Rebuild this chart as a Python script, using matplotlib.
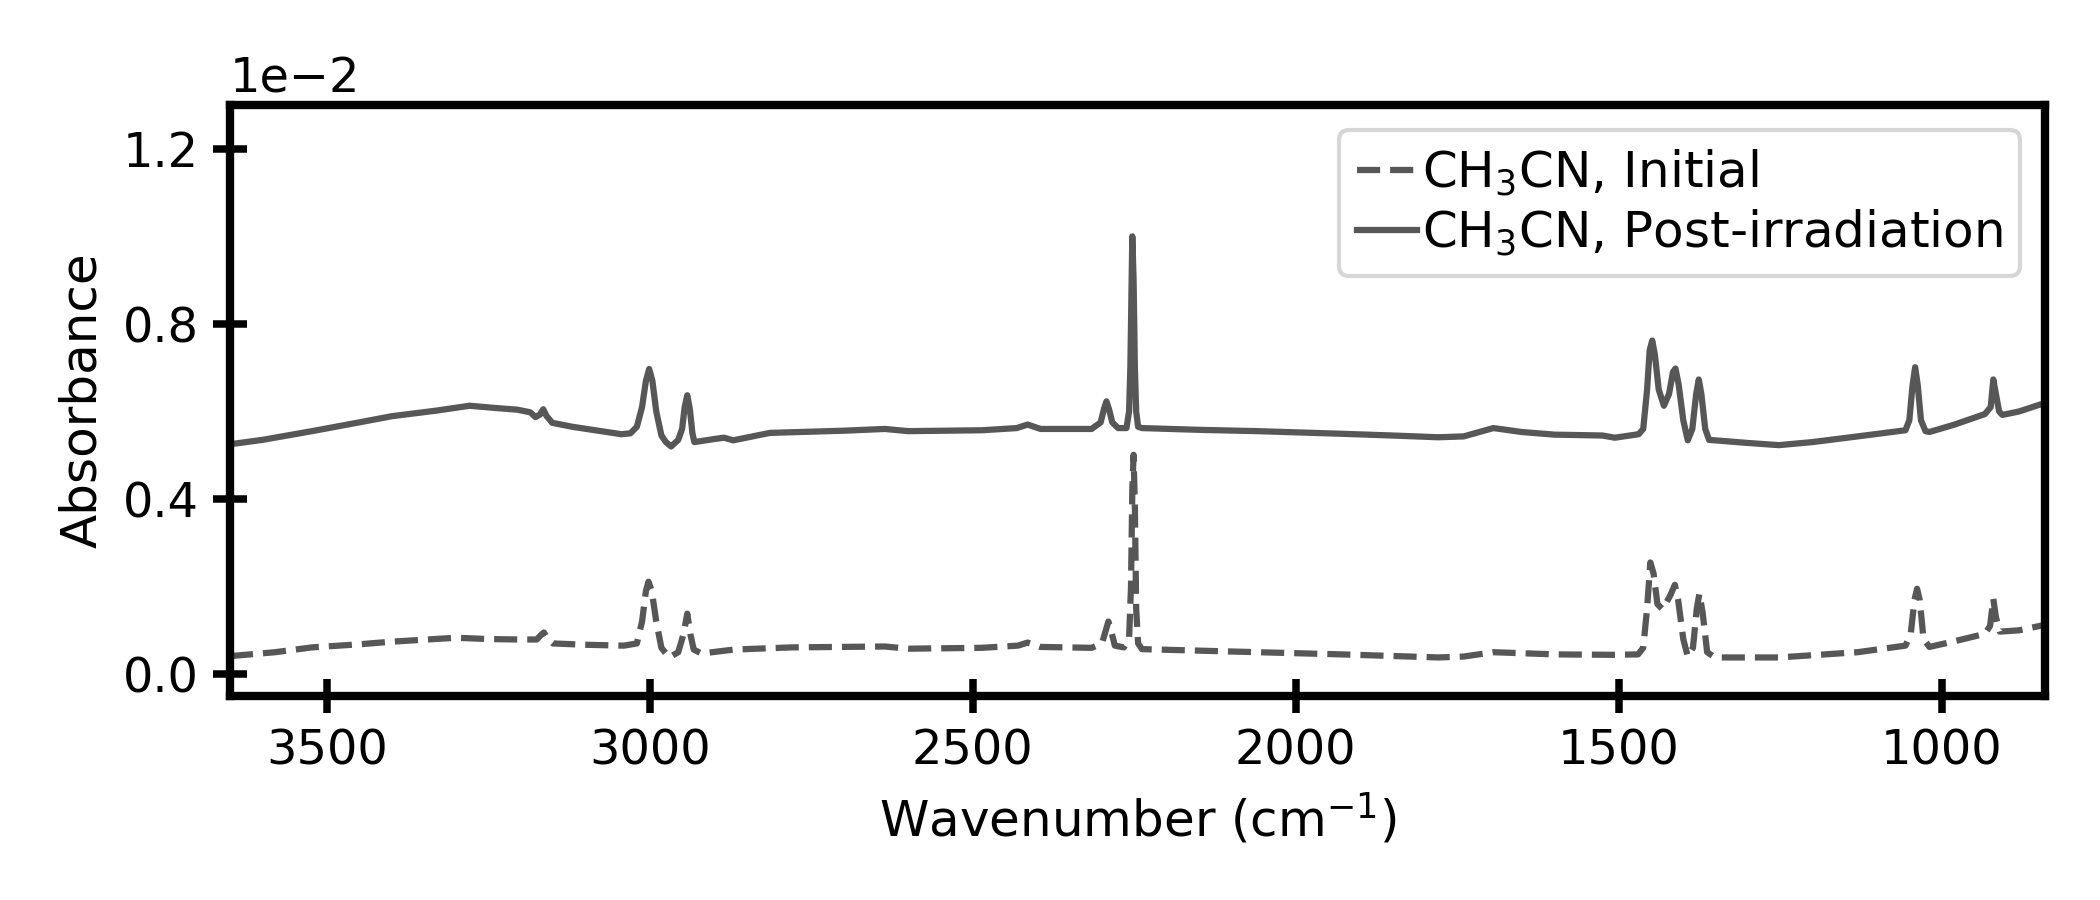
import numpy as np
import matplotlib
matplotlib.use('Agg')
import matplotlib.pyplot as plt

plt.rcParams['font.family'] = ['DejaVu Sans']
plt.rcParams['font.size'] = 11.5

# CH3CN, Initial (absorbance in units of 1e-2)
wn_init = [3650, 3580, 3523, 3450, 3400, 3300, 3250, 3200, 3175, 3168, 3164, 3158, 3150,
           3100, 3040, 3020, 3012, 3006, 3002, 2997, 2990, 2982, 2970, 2956, 2948, 2942,
           2937, 2932, 2920, 2870, 2780, 2636, 2600, 2486, 2430, 2415, 2395, 2316, 2300,
           2293, 2290, 2286, 2280, 2266, 2258, 2255, 2253, 2251, 2249, 2247, 2244, 2238,
           2059, 1929, 1779, 1740, 1694, 1599, 1506, 1470, 1462, 1456, 1451, 1446, 1440,
           1432, 1420, 1413, 1408, 1400, 1393, 1385, 1379, 1375, 1370, 1363, 1351, 1252,
           1130, 1056, 1048, 1042, 1038, 1034, 1028, 1019, 980, 933, 925, 920, 916, 910,
           880, 845, 840]
abs_init = [0.041, 0.050, 0.061, 0.068, 0.074, 0.083, 0.080, 0.079, 0.079, 0.090, 0.095, 0.080, 0.070,
            0.067, 0.065, 0.070, 0.120, 0.190, 0.211, 0.190, 0.120, 0.060, 0.038, 0.050, 0.090, 0.138,
            0.090, 0.056, 0.047, 0.056, 0.061, 0.063, 0.058, 0.060, 0.065, 0.072, 0.062, 0.060, 0.070,
            0.105, 0.120, 0.100, 0.065, 0.061, 0.080, 0.200, 0.420, 0.501, 0.380, 0.150, 0.070, 0.057,
            0.050, 0.045, 0.038, 0.040, 0.050, 0.045, 0.044, 0.045, 0.060, 0.150, 0.255, 0.230, 0.160,
            0.148, 0.180, 0.204, 0.170, 0.080, 0.040, 0.060, 0.150, 0.184, 0.140, 0.050, 0.038, 0.038,
            0.050, 0.065, 0.090, 0.170, 0.195, 0.170, 0.080, 0.062, 0.075, 0.092, 0.110, 0.172, 0.130, 0.097,
            0.100, 0.111, 0.112]

# CH3CN, Post-irradiation (absorbance in units of 1e-2)
wn_post = [3650, 3600, 3523, 3450, 3400, 3330, 3279, 3240, 3205, 3185, 3177, 3170, 3165, 3160,
           3151, 3120, 3080, 3044, 3030, 3020, 3012, 3006, 3001, 2996, 2990, 2982, 2975, 2967,
           2956, 2950, 2946, 2942, 2938, 2934, 2931, 2900, 2885, 2871, 2814, 2700, 2636, 2600,
           2486, 2432, 2415, 2395, 2316, 2302, 2297, 2293, 2289, 2284, 2275, 2262, 2258, 2256,
           2254, 2253, 2251, 2249, 2247, 2244, 2238, 2150, 2059, 1929, 1850, 1779, 1740, 1694,
           1650, 1599, 1525, 1506, 1469, 1462, 1456, 1452, 1448, 1444, 1438, 1430, 1422, 1416,
           1412, 1407, 1400, 1393, 1386, 1380, 1376, 1372, 1366, 1360, 1351, 1300, 1252, 1200,
           1130, 1056, 1050, 1045, 1041, 1037, 1032, 1025, 1019, 980, 933, 924, 920, 916, 911,
           906, 880, 845, 840]
abs_post = [0.525, 0.535, 0.555, 0.575, 0.589, 0.602, 0.613, 0.608, 0.604, 0.598, 0.587, 0.593, 0.605, 0.590,
            0.574, 0.565, 0.556, 0.548, 0.550, 0.565, 0.610, 0.670, 0.697, 0.670, 0.600, 0.545, 0.530, 0.520,
            0.535, 0.560, 0.610, 0.637, 0.605, 0.550, 0.530, 0.537, 0.540, 0.534, 0.551, 0.556, 0.560, 0.555,
            0.557, 0.562, 0.570, 0.560, 0.560, 0.575, 0.605, 0.623, 0.605, 0.575, 0.562, 0.562, 0.600, 0.700,
            0.900, 1.000, 0.900, 0.700, 0.600, 0.565, 0.562, 0.558, 0.555, 0.549, 0.545, 0.541, 0.543, 0.562,
            0.553, 0.547, 0.545, 0.540, 0.548, 0.560, 0.650, 0.740, 0.762, 0.730, 0.650, 0.613, 0.640, 0.690,
            0.698, 0.660, 0.580, 0.534, 0.560, 0.640, 0.673, 0.640, 0.560, 0.535, 0.534, 0.528, 0.523, 0.530,
            0.543, 0.557, 0.580, 0.660, 0.701, 0.660, 0.580, 0.555, 0.553, 0.570, 0.594, 0.610, 0.673, 0.640, 0.600,
            0.592, 0.600, 0.617, 0.618]

color = '#575757'

fig = plt.figure(figsize=(7, 3), dpi=300)
ax = fig.add_axes([0.1095, 0.2267, 0.8643, 0.6566])

ax.plot(wn_init, np.array(abs_init) * 1e-2, '--', color=color, lw=1.5, label=r'CH$_3$CN, Initial')
ax.plot(wn_post, np.array(abs_post) * 1e-2, '-', color=color, lw=1.5, label=r'CH$_3$CN, Post-irradiation')

ax.set_xlim(3650, 840)
ax.set_ylim(-0.0005, 0.013)
ax.set_yticks([0, 0.004, 0.008, 0.012])
ax.ticklabel_format(axis='y', style='sci', scilimits=(0, 0))
ax.set_xticks([3500, 3000, 2500, 2000, 1500, 1000])

ax.set_xlabel(r'Wavenumber (cm$^{-1}$)', fontsize=12)
ax.set_ylabel('Absorbance', fontsize=12)

for s in ax.spines.values():
    s.set_linewidth(2.0)
ax.tick_params(direction='inout', length=8, width=1.8)

ax.legend(loc='upper right', fontsize=12, handlelength=1.2, handletextpad=0.1,
          borderpad=0.35, labelspacing=0.2)

fig.savefig('out.png', dpi=300)
